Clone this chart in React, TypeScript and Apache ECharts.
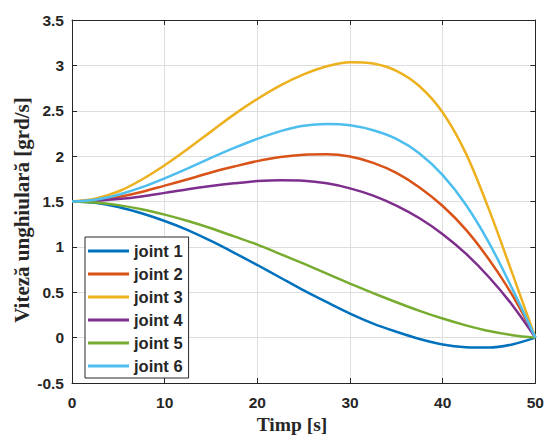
import React, { useEffect, useRef } from "react";
import * as echarts from "echarts";

const times = [0, 2.5, 5, 7.5, 10, 12.5, 15, 17.5, 20, 22.5, 25, 27.5, 30, 32.5, 35, 37.5, 40, 42.5, 45, 47.5, 50];
const joint1 = [1.5, 1.485, 1.44, 1.37, 1.285, 1.185, 1.065, 0.935, 0.8, 0.66, 0.52, 0.39, 0.265, 0.155, 0.065, -0.015, -0.075, -0.105, -0.11, -0.075, 0];
const joint2 = [1.5, 1.513, 1.55, 1.605, 1.675, 1.745, 1.82, 1.885, 1.945, 1.99, 2.015, 2.02, 1.995, 1.925, 1.815, 1.655, 1.45, 1.19, 0.86, 0.47, 0];
const joint3 = [1.5, 1.53, 1.61, 1.74, 1.9, 2.08, 2.27, 2.46, 2.63, 2.78, 2.9, 2.99, 3.035, 3.02, 2.94, 2.77, 2.48, 2.03, 1.41, 0.71, 0];
const joint4 = [1.5, 1.507, 1.527, 1.556, 1.595, 1.635, 1.67, 1.7, 1.725, 1.735, 1.73, 1.7, 1.645, 1.565, 1.455, 1.315, 1.14, 0.925, 0.665, 0.36, 0];
const joint5 = [1.5, 1.49, 1.46, 1.415, 1.355, 1.285, 1.205, 1.115, 1.025, 0.92, 0.815, 0.705, 0.595, 0.49, 0.39, 0.295, 0.21, 0.135, 0.072, 0.027, 0];
const joint6 = [1.5, 1.52, 1.575, 1.655, 1.755, 1.865, 1.98, 2.09, 2.19, 2.275, 2.335, 2.355, 2.34, 2.285, 2.19, 2.03, 1.79, 1.465, 1.045, 0.54, 0];

const seriesNames = ["joint 1", "joint 2", "joint 3", "joint 4", "joint 5", "joint 6"];
const seriesValues = [joint1, joint2, joint3, joint4, joint5, joint6];
const colors = ["#0072BD", "#D95319", "#EDB120", "#7E2F8E", "#77AC30", "#4DBEEE"];

const xTitle = "Timp [s]";
const yTitle = "Viteză unghiulară [grd/s]";

export default function App() {
  const ref = useRef<HTMLDivElement>(null);
  useEffect(() => {
    if (!ref.current) return;
    const chart = echarts.init(ref.current, undefined, { renderer: "svg" });
    const axisColor = "#262626";
    const labelStyle = {
      color: axisColor,
      fontFamily: "Liberation Sans",
      fontWeight: "bold" as const,
      fontSize: 15.5,
    };
    const lineAxis = { show: true, onZero: false, lineStyle: { color: axisColor, width: 1 } };
    const tick = { show: true, inside: true, length: 5, lineStyle: { color: axisColor } };
    chart.setOption({
      animation: false,
      backgroundColor: "#ffffff",
      grid: { left: 72, right: 10, top: 20, bottom: 52, containLabel: false },
      xAxis: [
        {
          type: "value",
          min: 0,
          max: 50,
          interval: 10,
          position: "bottom",
          axisLine: lineAxis,
          axisTick: tick,
          axisLabel: { ...labelStyle, margin: 11 },
          splitLine: { show: true, lineStyle: { color: "#dedede", width: 1 } },
        },
        {
          type: "value",
          min: 0,
          max: 50,
          interval: 10,
          position: "top",
          axisLine: lineAxis,
          axisTick: tick,
          axisLabel: { show: false },
          splitLine: { show: false },
        },
      ],
      yAxis: [
        {
          type: "value",
          min: -0.5,
          max: 3.5,
          interval: 0.5,
          position: "left",
          axisLine: lineAxis,
          axisTick: tick,
          axisLabel: { ...labelStyle, margin: 8 },
          splitLine: { show: true, lineStyle: { color: "#dedede", width: 1 } },
        },
        {
          type: "value",
          min: -0.5,
          max: 3.5,
          interval: 0.5,
          position: "right",
          axisLine: lineAxis,
          axisTick: tick,
          axisLabel: { show: false },
          splitLine: { show: false },
        },
      ],
      legend: {
        data: seriesNames,
        orient: "vertical",
        left: 85,
        top: 237,
        padding: [5, 6, 3, 3],
        icon: "rect",
        itemWidth: 41,
        itemHeight: 3,
        itemGap: 5,
        borderColor: axisColor,
        borderWidth: 1,
        backgroundColor: "#ffffff",
        textStyle: {
          color: axisColor,
          fontFamily: "Liberation Sans",
          fontWeight: "bold",
          fontSize: 16.5,
          lineHeight: 18,
        },
      },
      series: seriesNames.map((name, i) => ({
        name,
        type: "line",
        xAxisIndex: 0,
        yAxisIndex: 0,
        data: times.map((t, k) => [t, seriesValues[i][k]]),
        smooth: 0.33,
        symbol: "none",
        showSymbol: false,
        color: colors[i],
        lineStyle: { width: 2.5, color: colors[i] },
        itemStyle: { color: colors[i] },
        z: 2 + i,
      })),
      graphic: [
        {
          type: "text",
          x: 292,
          y: 424,
          style: {
            text: xTitle,
            fontFamily: "Liberation Serif",
            fontWeight: "bold",
            fontSize: 19.5,
            fill: axisColor,
            align: "center",
            verticalAlign: "middle",
          },
        },
        {
          type: "text",
          x: 22,
          y: 210,
          rotation: Math.PI / 2,
          style: {
            text: yTitle,
            fontFamily: "Liberation Serif",
            fontWeight: "bold",
            fontSize: 21,
            fill: axisColor,
            align: "center",
            verticalAlign: "middle",
          },
        },
      ],
    });
    return () => chart.dispose();
  }, []);
  return (
    <div
      ref={ref}
      style={{ position: "fixed", left: 0, top: 0, width: 547, height: 435, background: "#fff" }}
    />
  );
}
